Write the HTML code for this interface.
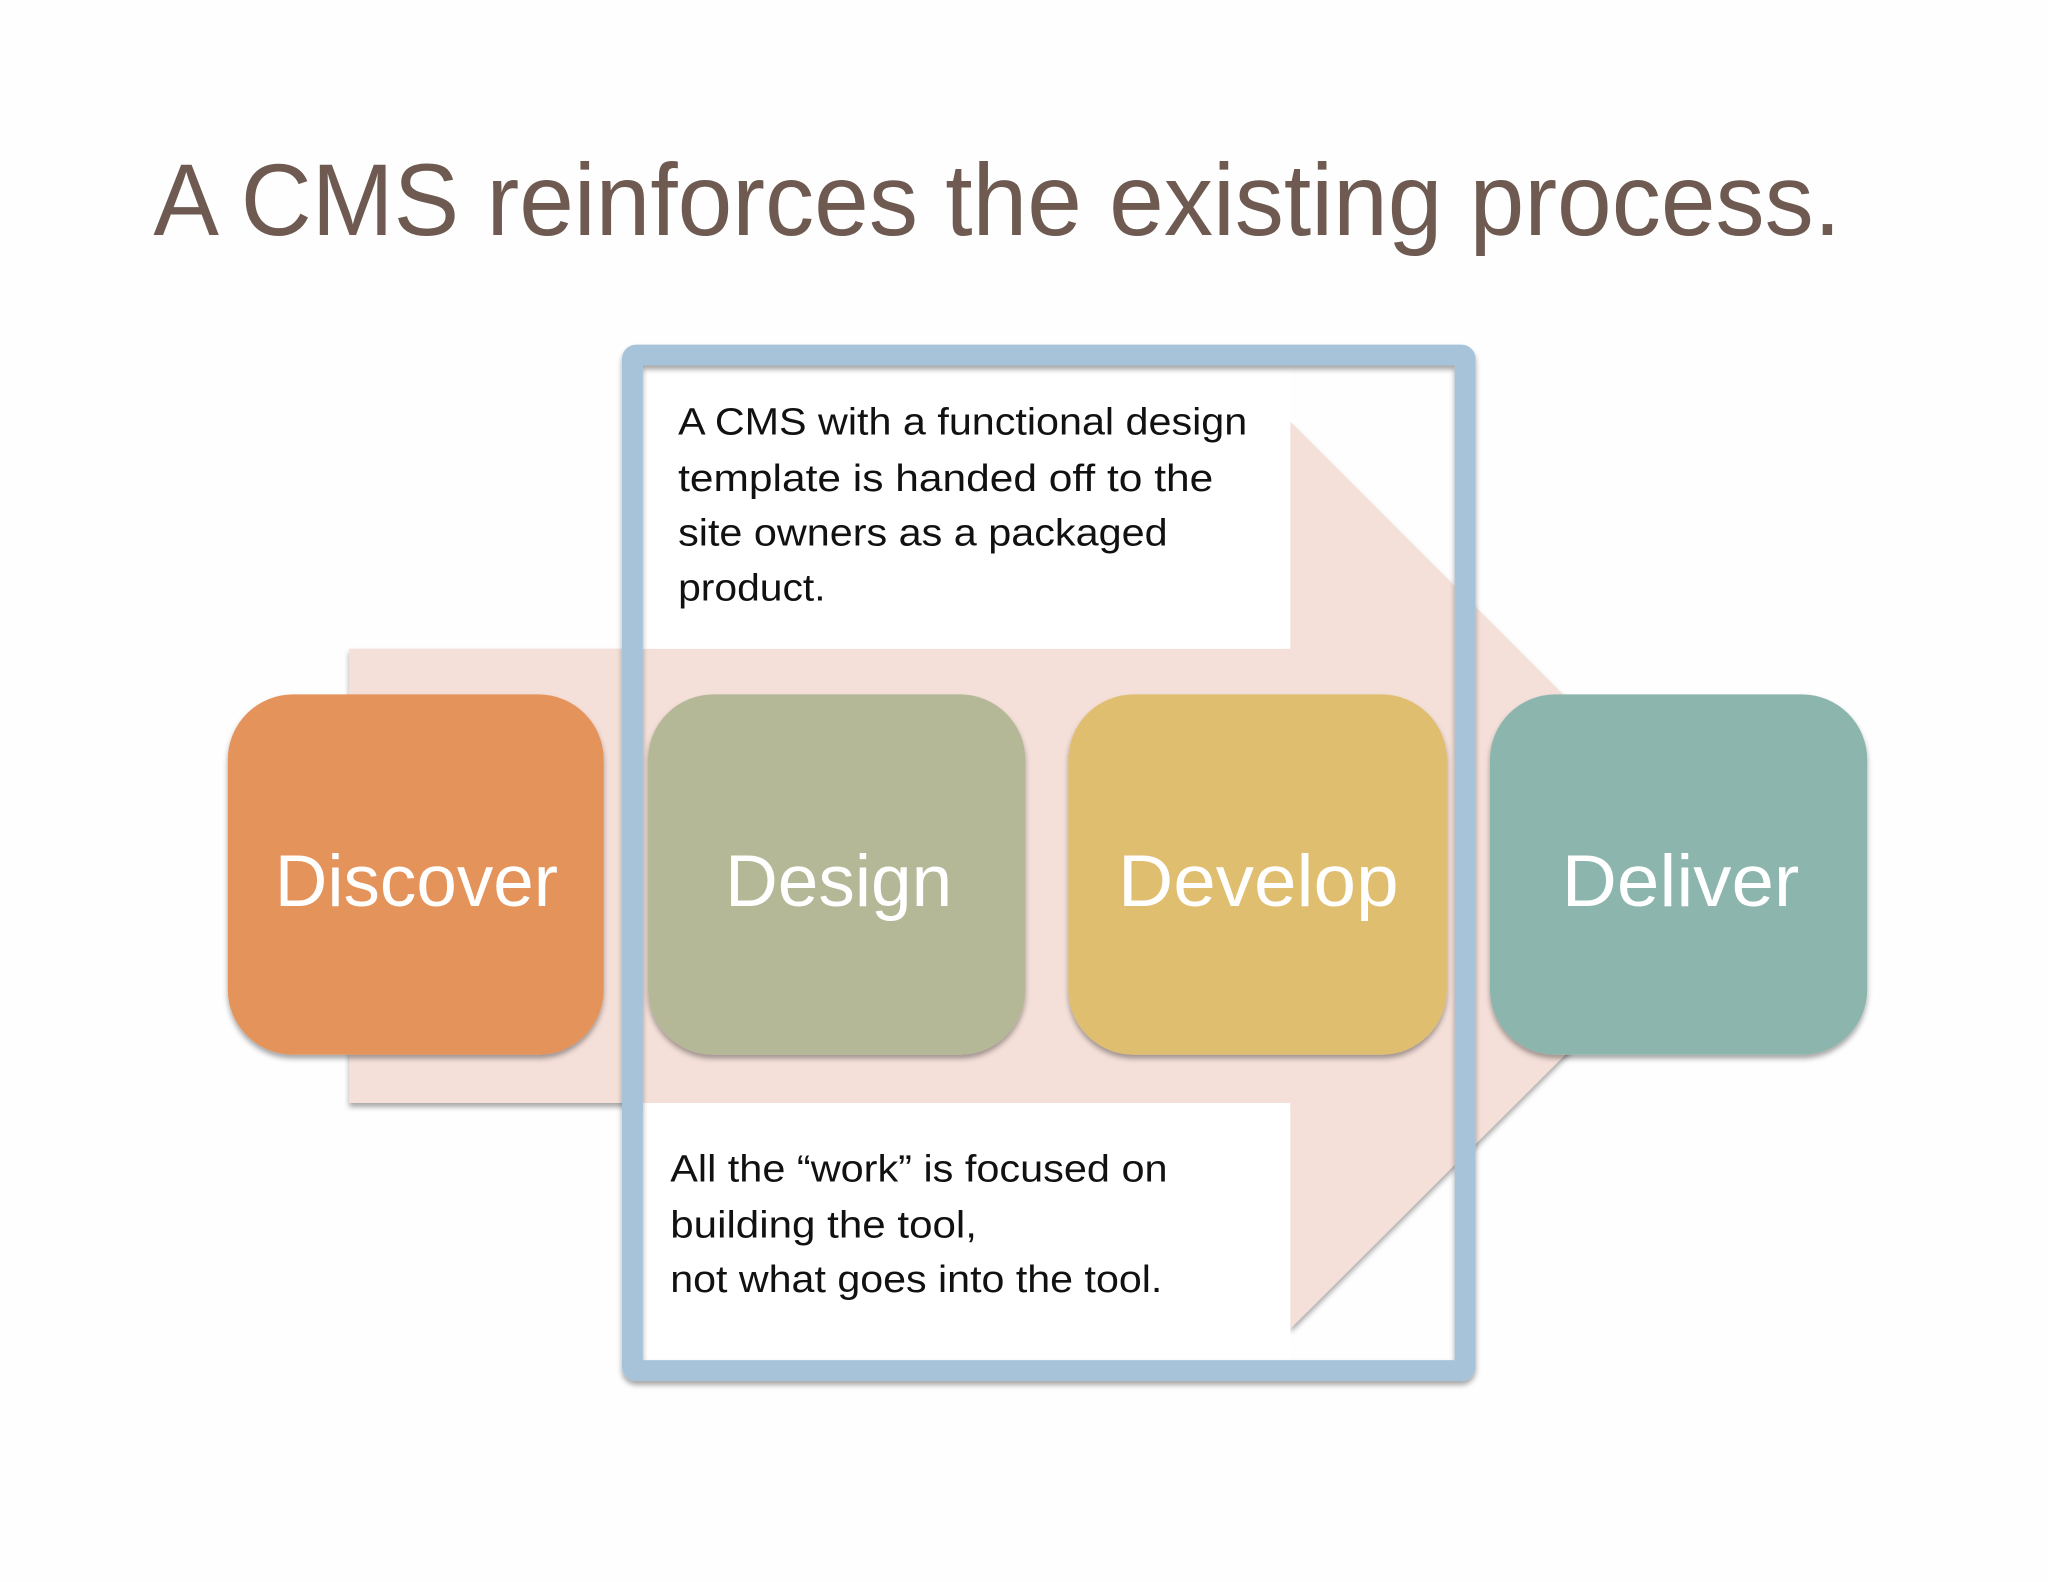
<!DOCTYPE html>
<html><head><meta charset="utf-8"><style>html,body{margin:0;padding:0;background:#fff}svg{display:block}</style></head>
<body>
<svg width="2048" height="1582" viewBox="0 0 1568 1212" xmlns="http://www.w3.org/2000/svg">
<defs><filter id="sh" x="-10%" y="-10%" width="120%" height="130%"><feDropShadow dx="0" dy="3" stdDeviation="2" flood-color="#000" flood-opacity="0.35"/></filter></defs>
<rect width="1568" height="1212" fill="#fefefe"/>
<text x="117" y="180" font-family="Liberation Sans, sans-serif" font-size="78" fill="#6e5a50" textLength="1293" lengthAdjust="spacingAndGlyphs">A CMS reinforces the existing process.</text>
<polygon points="267,497 988,497 988,323 1336,671 988,1018 988,845 267,845" fill="#f5e0d9" filter="url(#sh)"/>
<rect x="492" y="282" width="496" height="215" fill="#fff"/>
<rect x="492" y="845" width="496" height="197" fill="#fff"/>
<rect x="484" y="272" width="638" height="778" fill="none" stroke="#a7c3da" stroke-width="16" rx="3" filter="url(#sh)"/>
<g font-family="Liberation Sans, sans-serif" font-size="29" fill="#111">
<text x="519" y="333" textLength="436" lengthAdjust="spacingAndGlyphs">A CMS with a functional design</text>
<text x="519" y="376" textLength="410" lengthAdjust="spacingAndGlyphs">template is handed off to the</text>
<text x="519" y="418" textLength="375" lengthAdjust="spacingAndGlyphs">site owners as a packaged</text>
<text x="519" y="460" textLength="113" lengthAdjust="spacingAndGlyphs">product.</text>
<text x="513" y="905" textLength="381" lengthAdjust="spacingAndGlyphs">All the “work” is focused on</text>
<text x="513" y="948" textLength="235" lengthAdjust="spacingAndGlyphs">building the tool,</text>
<text x="513" y="990" textLength="377" lengthAdjust="spacingAndGlyphs">not what goes into the tool.</text>
</g>
<g filter="url(#sh)">
<rect x="174" y="532" width="288" height="276" rx="50" fill="#e4935a"/>
<rect x="496" y="532" width="289" height="276" rx="50" fill="#b4b896"/>
<rect x="818" y="532" width="290" height="276" rx="50" fill="#e0be70"/>
<rect x="1141" y="532" width="289" height="276" rx="50" fill="#8cb5ad"/>
</g>
<g font-family="Liberation Sans, sans-serif" font-size="56" fill="#fff">
<text x="210" y="694" textLength="217" lengthAdjust="spacingAndGlyphs">Discover</text>
<text x="555" y="694" textLength="174" lengthAdjust="spacingAndGlyphs">Design</text>
<text x="856" y="694" textLength="215" lengthAdjust="spacingAndGlyphs">Develop</text>
<text x="1196" y="694" textLength="182" lengthAdjust="spacingAndGlyphs">Deliver</text>
</g>
</svg>
</body></html>
